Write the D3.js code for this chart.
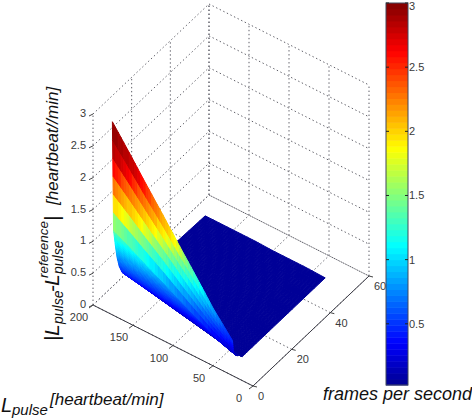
<!DOCTYPE html>
<html>
<head>
<meta charset="utf-8">
<script src="https://cdn.jsdelivr.net/npm/d3@7"></script>
<style>
  html, body { margin: 0; padding: 0; background: #fff; }
  text { font-family: "Liberation Sans", Arial, sans-serif; fill: #3a3a3a; }
  .title { font-style: italic; fill: #111; }
</style>
</head>
<body>
<svg id="chart" width="472" height="420"></svg>
<script>
const pulseRates = [183, 162, 141, 120, 99, 78, 57, 33];
const frameRates = [3, 3.6, 4.5, 5.4, 6.5, 8, 10, 14, 22, 34, 51];
// one row per pulse rate, one column per frame rate
const pulseError = [
  [2.90, 1.18, 0.92, 0.70, 0.53, 0.39, 0.30, 0.12, 0.08, 0.06, 0.04],
  [2.55, 1.04, 0.81, 0.61, 0.47, 0.34, 0.25, 0.10, 0.07, 0.06, 0.04],
  [2.19, 0.89, 0.70, 0.53, 0.40, 0.29, 0.19, 0.09, 0.07, 0.06, 0.04],
  [1.84, 0.75, 0.58, 0.45, 0.34, 0.233, 0.14, 0.08, 0.06, 0.05, 0.04],
  [1.48, 0.60, 0.47, 0.36, 0.27, 0.18, 0.09, 0.07, 0.06, 0.05, 0.03],
  [1.13, 0.46, 0.36, 0.27, 0.21, 0.126, 0.06, 0.05, 0.05, 0.05, 0.03],
  [0.77, 0.32, 0.25, 0.21, 0.15, 0.072, 0.04, 0.04, 0.04, 0.04, 0.03],
  [0.42, 0.20, 0.15, 0.11, 0.09, 0.02, 0.02, 0.02, 0.02, 0.02, 0.02]
];
// colour value the surface takes at a given height
const heightLevels = [0, 0.3, 0.6, 0.97, 1.28, 1.53, 2.0, 2.27, 2.9];
const colorLevels = [0, 0.3, 0.65, 1.1, 1.5, 1.9, 2.4, 2.75, 3];
const pulseTicks = [0, 50, 100, 150, 200];
const frameTicks = [0, 20, 40, 60];
const errorTicks = [0, 0.5, 1, 1.5, 2, 2.5, 3];
const barTicks = [0.5, 1, 1.5, 2, 2.5, 3];
const jetStops = ['#00008f', '#0000ff', '#00ffff', '#ffff00', '#ff0000', '#800000'];
const jetPositions = [0, 0.111, 0.365, 0.62, 0.873, 1];

const svg = d3.select('#chart');

// axonometric view, each data axis adds an offset in pixels
const origin = [253, 386];
const xFromPulse = d3.scaleLinear().domain([0, 200]).range([0, -160]);
const yFromPulse = d3.scaleLinear().domain([0, 200]).range([0, -81]);
const xFromFrame = d3.scaleLinear().domain([0, 60]).range([0, 116]);
const yFromFrame = d3.scaleLinear().domain([0, 60]).range([0, -110]);
const yFromError = d3.scaleLinear().domain([0, 3]).range([0, -191]);

const project = (pulse, frame, err) => [
  origin[0] + xFromPulse(pulse) + xFromFrame(frame),
  origin[1] + yFromPulse(pulse) + yFromFrame(frame) + yFromError(err)
];

const barMin = 0.023;
const jetRamp = d3.scaleLinear().domain(jetPositions).range(jetStops);
const jet = d3.scaleQuantize()
  .domain([barMin, 3])
  .range(d3.range(64).map(i => jetRamp((i + 0.5) / 64)));
const colorValue = d3.scaleLinear().domain(heightLevels).range(colorLevels);

// grid on the floor and the two back walls
const gridLines = [];
frameTicks.forEach(f => {
  gridLines.push([project(200, f, 0), project(200, f, 3)]);
  gridLines.push([project(0, f, 0), project(200, f, 0)]);
});
pulseTicks.forEach(p => {
  gridLines.push([project(p, 60, 0), project(p, 60, 3)]);
  gridLines.push([project(p, 0, 0), project(p, 60, 0)]);
});
errorTicks.forEach(e => {
  gridLines.push([project(200, 0, e), project(200, 60, e)]);
  gridLines.push([project(200, 60, e), project(0, 60, e)]);
});

svg.append('g')
  .selectAll('line')
  .data(gridLines)
  .enter()
  .append('line')
  .attr('x1', d => d[0][0])
  .attr('y1', d => d[0][1])
  .attr('x2', d => d[1][0])
  .attr('y2', d => d[1][1])
  .attr('stroke', '#5f5f68')
  .attr('stroke-width', 1)
  .attr('stroke-dasharray', '1.4 2.6');

// surface: back to front, each facet split up for interpolated shading
const steps = 6;
const facets = [];
for (let j = frameRates.length - 2; j >= 0; j--) {
  for (let sj = steps - 1; sj >= 0; sj--) {
    for (let i = 0; i < pulseRates.length - 1; i++) {
      for (let si = 0; si < steps; si++) {
        facets.push({ i, j, si, sj });
      }
    }
  }
}

const surfacePoint = (i, j, u, v) => {
  const pulse = d3.interpolateNumber(pulseRates[i], pulseRates[i + 1])(u);
  const frame = d3.interpolateNumber(frameRates[j], frameRates[j + 1])(v);
  const a = d3.interpolateNumber(pulseError[i][j], pulseError[i + 1][j])(u);
  const b = d3.interpolateNumber(pulseError[i][j + 1], pulseError[i + 1][j + 1])(u);
  const err = d3.interpolateNumber(a, b)(v);
  return { pulse, frame, err };
};

const facetCorners = d => {
  const u0 = d.si / steps;
  const u1 = (d.si + 1) / steps;
  const v0 = d.sj / steps;
  const v1 = (d.sj + 1) / steps;
  return [[u0, v0], [u1, v0], [u1, v1], [u0, v1]]
    .map(c => surfacePoint(d.i, d.j, c[0], c[1]));
};

svg.append('g')
  .selectAll('path')
  .data(facets)
  .enter()
  .append('path')
  .each(function(d) {
    const pts = facetCorners(d);
    const color = jet(colorValue(d3.mean(pts, p => p.err)));
    d3.select(this)
      .attr('d', 'M' + pts.map(p => project(p.pulse, p.frame, p.err).join(',')).join('L') + 'Z')
      .attr('fill', color)
      .attr('stroke', color)
      .attr('stroke-linejoin', 'round')
      .attr('stroke-width', 1);
  });

// axes
const axisLines = [
  [project(200, 0, 0), project(0, 0, 0)],
  [project(0, 0, 0), project(0, 60, 0)]
];
svg.append('g')
  .selectAll('line')
  .data(axisLines)
  .enter()
  .append('line')
  .attr('x1', d => d[0][0])
  .attr('y1', d => d[0][1])
  .attr('x2', d => d[1][0])
  .attr('y2', d => d[1][1])
  .attr('stroke', '#3a3a44')
  .attr('stroke-width', 1);

const ticks = svg.append('g').attr('stroke', '#444').attr('stroke-width', 1);
pulseTicks.forEach(p => {
  const a = project(p, 0, 0);
  ticks.append('line').attr('x1', a[0]).attr('y1', a[1]).attr('x2', a[0] - 4).attr('y2', a[1] + 3);
});
frameTicks.forEach(f => {
  const a = project(0, f, 0);
  ticks.append('line').attr('x1', a[0]).attr('y1', a[1]).attr('x2', a[0] + 4).attr('y2', a[1] + 1);
});
errorTicks.forEach(e => {
  const a = project(200, 0, e);
  ticks.append('line').attr('x1', a[0]).attr('y1', a[1]).attr('x2', a[0] - 4).attr('y2', a[1] + 2);
});

const tickText = (x, y, label, anchor) => svg.append('text')
  .attr('x', x)
  .attr('y', y)
  .attr('text-anchor', anchor)
  .attr('font-size', 11)
  .text(label);

errorTicks.forEach(e => {
  const a = project(200, 0, e);
  tickText(a[0] - 7, a[1] + 3, e, 'end');
});
pulseTicks.forEach(p => {
  const a = project(p, 0, 0);
  tickText(a[0] - 14, a[1] + 16, p, 'middle');
});
frameTicks.forEach(f => {
  const a = project(0, f, 0);
  tickText(a[0] + 5, a[1] + 14, f, 'start');
});

// colorbar
const barLeft = 386;
const barWidth = 22;
const barY = d3.scaleLinear().domain([barMin, 3]).range([385, 3]);
const bar = svg.append('g');
bar.selectAll('rect')
  .data(jet.range())
  .enter()
  .append('rect')
  .attr('x', barLeft)
  .attr('width', barWidth)
  .attr('y', d => barY(jet.invertExtent(d)[1]))
  .attr('height', d => barY(jet.invertExtent(d)[0]) - barY(jet.invertExtent(d)[1]) + 0.5)
  .attr('fill', d => d);
bar.append('rect')
  .attr('x', barLeft)
  .attr('y', barY(3))
  .attr('width', barWidth)
  .attr('height', barY(barMin) - barY(3))
  .attr('fill', 'none')
  .attr('stroke', '#40485c')
  .attr('stroke-width', 1);
barTicks.forEach(t => {
  const y = barY(t);
  bar.append('line').attr('x1', barLeft).attr('x2', barLeft + 3).attr('y1', y).attr('y2', y).attr('stroke', '#222');
  bar.append('line').attr('x1', barLeft + barWidth - 3).attr('x2', barLeft + barWidth).attr('y1', y).attr('y2', y).attr('stroke', '#222');
  tickText(barLeft + barWidth + 1, y + (t === 3 ? 7 : 4), t, 'start');
});

// titles
const titleText = (parent, x, y, label, size) => parent.append('text')
  .attr('class', 'title')
  .attr('x', x)
  .attr('y', y)
  .attr('font-size', size)
  .text(label);

titleText(svg, 1, 412, 'L', 20);
titleText(svg, 12, 415, 'pulse', 15);
titleText(svg, 50, 405, '[heartbeat/min]', 17);
titleText(svg, 323, 400, 'frames per second', 18);

const zTitle = svg.append('g').attr('transform', 'translate(59,338) rotate(-90)');
titleText(zTitle, -3, 0, '|', 20);
titleText(zTitle, 2, 0, 'L', 21);
titleText(zTitle, 14, 4, 'pulse', 14);
titleText(zTitle, 46, 0, '-', 20);
titleText(zTitle, 52, 0, 'L', 21);
titleText(zTitle, 64, 4, 'pulse', 14);
titleText(zTitle, 60, -11, 'reference', 13.5);
titleText(zTitle, 117, 0, '|', 20);
titleText(zTitle, 133, -1, '[heartbeat//min]', 17);
</script>
</body>
</html>
